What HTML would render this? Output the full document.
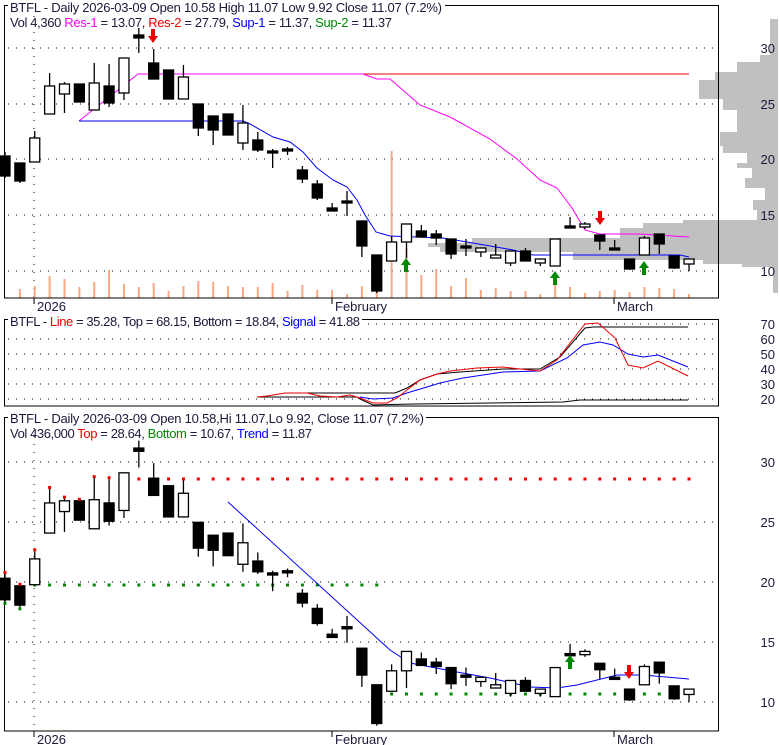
<!DOCTYPE html>
<html><head><meta charset="utf-8"><style>
body{margin:0;background:#fff}
svg{display:block}
text{font-family:"Liberation Sans",sans-serif;font-size:13px;fill:#1a1a3a}
</style></head><body>
<svg id="s" width="780" height="745" xmlns="http://www.w3.org/2000/svg"></svg>
<script>
const S=document.getElementById('s');let h='';
const X=i=>5+14.87*i;
const prof=[[19,55,770],[55,62,760],[62,72,737],[72,80,715],[80,99,699],[99,110,723],[110,132,737],[132,146,720],[146,153,723],[153,163,747],[163,168,737],[168,178,752],[178,188,745],[188,200,765],[200,210,753],[210,220,757],[220,223,683],[223,228,643],[228,238,620],[238,243,472],[243,247,428],[247,252,440],[252,260,573],[260,264,703],[264,267,742],[267,293,773]];
prof.forEach(p=>h+=`<rect x="${p[2]}" y="${p[0]}" width="${778-p[2]}" height="${p[1]-p[0]}" fill="#c0c0c0"/>`);
function hgrid(ys){ys.forEach(y=>h+=`<line x1="8" y1="${y}" x2="719" y2="${y}" stroke="#000" stroke-dasharray="1,7"/>`)}
hgrid([48,104,159,215,271]);hgrid([324,339,354,369,384,399]);hgrid([462,522,582,642,702]);
h+=`<line x1="34" y1="8" x2="34" y2="298" stroke="#000" stroke-dasharray="1,7"/><line x1="34" y1="420" x2="34" y2="731" stroke="#000" stroke-dasharray="1,7"/>`;
const vol=[298,289,286,276,279,287,282,270,284,287,283,291,286,281,282,286,287,287,283,291,285,290,290,294,286,290,151,248,275,269,286,278,290,288,291,291,294,278,287,293,291,290,292,287,288,289,294];
vol.forEach((v,i)=>h+=`<line x1="${X(i)}" y1="${v}" x2="${X(i)}" y2="298" stroke="#f7a882" stroke-width="2"/>`);
const C=[[156,176,152,178,1],[163,181,163,183,1],[138,162,131,162,0],[86,114,73,114,0],[84,94,82,113,0],[84,102,84,102,1],[83,110,63,110,0],[86,103,64,107,1],[58,93,58,100,0],[35,38,28,53,1],[63,79,49,79,1],[70,99,70,99,1],[77,99,65,99,0],[104,128,104,136,1],[116,130,116,145,1],[114,135,114,135,1],[123,143,105,150,0],[140,150,132,152,1],[151,153,149,168,1],[149,151,147,155,1],[170,179,166,183,1],[184,198,180,200,1],[208,211,203,211,1],[201,203,191,216,1],[221,246,221,257,1],[255,291,255,293,1],[242,261,236,261,0],[224,242,224,258,0],[231,237,225,237,1],[234,238,230,245,1],[239,254,239,259,1],[246,248,239,256,1],[248,252,248,257,0],[255,258,244,258,0],[251,263,251,266,0],[251,261,248,261,1],[259,263,259,266,0],[239,266,239,266,0],[226,228,217,228,1],[224,227,222,229,0],[235,241,235,250,1],[248,250,240,250,1],[259,269,259,270,1],[238,255,236,255,0],[234,244,234,254,1],[256,268,256,269,1],[259,264,259,271,0]];
const B=y=>702-(271-y)*1.076;
function candles(f){C.forEach((c,i)=>{const x=X(i);const t=f(c[0]),b=f(c[1]),wt=f(c[2]),wb=f(c[3]);
h+=`<line x1="${x}" y1="${wt}" x2="${x}" y2="${wb}" stroke="#000" stroke-width="1.3"/>`;
h+=`<rect x="${x-5}" y="${t}" width="10" height="${Math.max(b-t,2)}" fill="${c[4]?'#000':'#fff'}" stroke="#000" stroke-width="1.3"/>`;});}
const pl=(pts,col,w)=>h+=`<polyline points="${pts}" fill="none" stroke="${col}" stroke-width="${w||1}"/>`;
pl("79,121 138,74 363,74","#f0f");pl("363,74 689,74","#e00");
pl("363,74 377,79 390,79 420,105 450,117 490,139 517,159 540,180 557,188 572,208 585,230 600,234 640,234 689,237","#f0f");
pl("79,121 243,121 250,124 273,137 290,142 303,152 317,168 333,180 347,187 357,200 365,215 376,232 390,236 443,238 467,242 513,250 533,255 680,255 689,257","#00f");
candles(y=>y);
function arrow(x,y,up,col){if(up)h+=`<polygon points="${x},${y-7} ${x+5},${y} ${x+2},${y} ${x+2},${y+7} ${x-2},${y+7} ${x-2},${y} ${x-5},${y}" fill="${col}"/>`;
else h+=`<polygon points="${x},${y+7} ${x+5},${y} ${x+2},${y} ${x+2},${y-7} ${x-2},${y-7} ${x-2},${y} ${x-5},${y}" fill="${col}"/>`;}
arrow(153,36,0,"#e00");arrow(600,218,0,"#e00");arrow(406,265,1,"#080");arrow(555,278,1,"#080");arrow(644,268,1,"#080");
h+=`<rect x="4.5" y="5.5" width="714" height="292.5" fill="none" stroke="#000"/>`;
h+=`<rect x="4.5" y="319.5" width="714" height="86.5" fill="none" stroke="#000"/>`;
h+=`<rect x="4.5" y="417.5" width="714" height="313.5" fill="none" stroke="#000"/>`;
pl("257,397 357,397 360,399 373,405 413,404 563,402 580,400 688,400","#000");
pl("307,393 395,393 407,388 420,380 437,374 460,372 503,369 540,369 560,357 585,328 593,327 688,327","#000");
pl("360,397 373,399 393,398 407,393 440,383 463,378 503,372 540,371 567,358 583,345 600,342 613,345 628,354 643,357 658,355 688,367","#00f");
pl("257,397 267,396 285,393 307,393 320,396 337,397 350,395 360,398 373,403 387,403 397,398 407,390 420,380 437,374 450,371 477,368 503,367 520,369 540,371 557,360 570,343 585,324 598,323 615,338 628,365 643,368 658,361 688,376","#e00");
for(let i=9;i<=46;i++)h+=`<rect x="${X(i)-1.5}" y="477.5" width="3" height="3" fill="#e00"/>`;
for(let i=2;i<=25;i++)h+=`<rect x="${X(i)-1.5}" y="583.5" width="3" height="3" fill="#080"/>`;
for(let i=26;i<=45;i++)h+=`<rect x="${X(i)-1.5}" y="692.5" width="3" height="3" fill="#080"/>`;
pl("228,502 390,650 410,663 457,672 490,678 517,684 530,687 557,688 577,685 617,675 643,675 689,679","#00f");
candles(B);
[0,1,2,3,4,5,6,7].forEach(i=>h+=`<rect x="${X(i)-1.5}" y="${B(C[i][2])-3}" width="3" height="3" fill="#e00"/>`);
[0,1].forEach(i=>h+=`<rect x="${X(i)-1.5}" y="${B(C[i][3])}" width="3" height="3" fill="#080"/>`);
arrow(570,662,1,"#080");arrow(629,672,0,"#e00");
[[34,"2026"],[332,"February"],[614,"March"]].forEach(a=>{h+=`<line x1="${a[0]}" y1="298" x2="${a[0]}" y2="304" stroke="#000"/><text x="${a[0]+3}" y="311">${a[1]}</text>`;
h+=`<line x1="${a[0]}" y1="731" x2="${a[0]}" y2="737" stroke="#000"/><text x="${a[0]+3}" y="744">${a[1]}</text>`;});
[[48,30],[104,25],[159,20],[215,15],[271,10]].forEach(a=>h+=`<text x="775" y="${a[0]+5}" text-anchor="end">${a[1]}</text>`);
[[324,70],[339,60],[354,50],[369,40],[384,30],[399,20]].forEach(a=>h+=`<text x="775" y="${a[0]+5}" text-anchor="end">${a[1]}</text>`);
[[462,30],[522,25],[582,20],[642,15],[702,10]].forEach(a=>h+=`<text x="775" y="${a[0]+5}" text-anchor="end">${a[1]}</text>`);
h+=`<rect x="8" y="0" width="437" height="13" fill="#fff"/><text x="10" y="12" textLength="432">BTFL - Daily 2026-03-09 Open 10.58  High 11.07  Low 9.92  Close 11.07 (7.2%)</text>`;
h+=`<text x="10" y="27" textLength="382">Vol 4,360 <tspan fill="#f0f">Res-1</tspan> = 13.07, <tspan fill="#e00">Res-2</tspan> = 27.79, <tspan fill="#00f">Sup-1</tspan> = 11.37, <tspan fill="#080">Sup-2</tspan> = 11.37</text>`;
h+=`<rect x="8" y="313" width="354" height="13" fill="#fff"/><text x="10" y="326" textLength="350">BTFL - <tspan fill="#e00">Line</tspan> = 35.28, Top = 68.15, Bottom = 18.84, <tspan fill="#00f">Signal</tspan> = 41.88</text>`;
h+=`<rect x="8" y="411" width="418" height="13" fill="#fff"/><text x="10" y="423" textLength="414">BTFL - Daily 2026-03-09 Open 10.58,Hi 11.07,Lo 9.92, Close 11.07 (7.2%)</text>`;
h+=`<text x="10" y="438" textLength="302">Vol 436,000 <tspan fill="#e00">Top</tspan> = 28.64, <tspan fill="#080">Bottom</tspan> = 10.67, <tspan fill="#00f">Trend</tspan> = 11.87</text>`;
S.innerHTML=h;
</script>
</body></html>
